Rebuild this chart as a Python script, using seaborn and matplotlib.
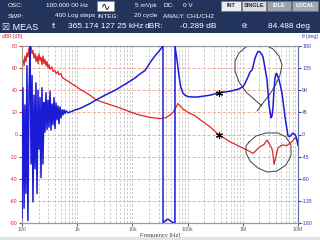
import matplotlib
matplotlib.use("Agg")
import matplotlib.pyplot as plt
import seaborn as sns
import pandas as pd
from matplotlib.patches import Rectangle
from matplotlib.ticker import FixedLocator, NullFormatter

# ---------------- data ----------------
mag_freq = [100, 104, 109, 113, 118, 123, 128, 134, 140, 146, 152, 158, 165, 172, 179,
            187, 195, 203, 212, 221, 230, 240, 250, 261, 272, 284, 296, 308, 322, 350,
            364, 396, 413, 449, 468, 509, 530, 553, 741, 1124, 1706, 2101, 2588, 3928,
            5963, 9046, 13728, 20837, 31623, 38958, 47994, 54382, 59109, 67008, 72846,
            82567, 101672, 136167, 167707, 254568, 365174, 586300, 889900, 1242400,
            1467800, 1530400, 1663400, 1885500, 2049800, 2422000, 2744700, 2983600,
            3381000, 3524800, 3674700, 3993800, 4341700, 5131500, 6319000, 7784000,
            8824000, 10000000]
mag_db = [63, 68, 62, 71, 66, 74, 70, 78, 72, 80, 73, 76, 69, 73, 66,
          71, 64, 73, 67, 70, 63, 71, 64, 68, 62, 66, 60, 63, 59, 61,
          57, 58, 55, 57, 54, 55, 52, 51, 47, 41, 35.5, 32, 30, 27,
          24, 20.5, 17.5, 15.5, 14.3, 15, 17.5, 20, 23, 28, 26,
          23, 20, 17, 13.5, 7, -0.289, -6.5, -11, -14.5,
          -16.5, -17, -15.5, -12.5, -11, -9, -5, -8,
          -13, -18, -27, -20, -12, -9.5, -10, -6.5,
          -3, -5]

phase_freq = [100, 104, 109, 113, 118, 123, 128, 134, 140, 146, 152, 158, 165, 172, 179,
              187, 195, 203, 212, 221, 230, 240, 250, 261, 272, 284, 296, 308, 322, 335,
              350, 364, 380, 396, 413, 431, 449, 468, 488, 509, 530, 553, 577, 601, 627,
              681, 741, 805, 912, 1124, 1706, 2101, 3188, 4840, 7345, 11144, 13728, 14925,
              16914, 18386, 20837, 25672, 29094, 31623, 35800, 35900, 39000, 44145, 48000,
              54382, 58900, 59109, 64269, 67008, 72846, 75945, 82567, 89753, 101672,
              136167, 167707, 254568, 365174, 586300, 818400, 1008300, 1096300, 1242400,
              1350400, 1467800, 1530400, 1663400, 1808300, 1885500, 2049800, 2228400,
              2323200, 2525000, 2744700, 2983600, 3242900, 3381000, 3524800, 3674700,
              3831000, 3993800, 4164600, 4341700, 4526300, 5131500, 5814000, 6319000,
              6590000, 7163000, 7784000, 8117000, 8824000, 9199000, 10000000]
phase_deg = [-170, 95, -150, 60, -120, 140, -175, 90, 180, -60, 120, -137, 80, -70, 105,
             -120, 90, -30, 75, -88, 95, -60, 65, 5, 85, 10, 70, 15, 88, 9,
             62, 20, 75, 12, 64, 30, 58, 22, 56, 34, 50, 40, 50, 43, 48,
             44, 46, 47, 50, 53, 63, 69, 80, 90, 102, 115, 123, 126,
             130, 136, 146, 160, 167, 172, 180, -179.5, -176, -172, -175,
             -179, -179.8, 179.8, 152, 135, 105, 95, 84, 80, 77,
             76, 77, 80, 84.488, 88, 92, 97, 104, 117,
             127, 131, 138, 155, 165, 169, 168, 162,
             158, 135, 111, 60, 34, 38, 55, 91,
             115, 124, 123, 117, 112, 84, 36, 10,
             -3, -4, 1, 3, 0, -4, -22]

loop_a_freq = [2228400, 1663400, 1142900, 853500, 722400, 722400, 853500, 1142900, 1663400,
               2525000, 3524800, 4526300, 5131500, 4719700, 3993800, 3110700, 2323200, 1808300]
loop_a_db = [25.8, 31.2, 38.4, 47.5, 57.4, 66.4, 73.7, 79.1, 81.8,
             80.9, 77.3, 71.0, 62.8, 53.8, 45.6, 36.6, 28.5, 21.2]
loop_b_freq = [1295300, 1734300, 2632700, 4341700, 6060000, 7466800, 7466800, 6060000,
               4164600, 2744700, 1885500, 1350400, 1142900, 1142900, 1295300]
loop_b_db = [-6.8, -1.4, 1.4, 1.4, -2.3, -9.5, -19.4, -27.6,
             -33.0, -33.9, -30.3, -24.0, -16.7, -10.4, -6.8]

marker_freq = 365174.12725
marker_db = -0.289
marker_deg = 84.488

x_ticks = [1e2, 1e3, 1e4, 1e5, 1e6, 1e7]
x_tick_labels = ["100", "1k", "10k", "100k", "1M", "10M"]
db_ticks = [-80, -60, -40, -20, 0, 20, 40, 60, 80]
deg_ticks = [-180, -135, -90, -45, 0, 45, 90, 135, 180]

# ---------------- style ----------------
sns.set_style("white")
plt.rcParams["font.family"] = ["Liberation Sans", "DejaVu Sans"]

W, H = 320, 240
fig = plt.figure(figsize=(3.2, 2.4), dpi=100)
fig.patch.set_facecolor("white")


def fx(px):
    return px / W


def fy(py):
    return 1 - py / H


RED = "#e02626"
BLUE = "#1c1cd6"

ax = fig.add_axes([fx(22), fy(223), (298 - 22) / W, (223 - 46) / H])
ax.set_xscale("log")
ax2 = ax.twinx()

mag_df = pd.DataFrame({"freq": mag_freq, "db": mag_db})
ph_df = pd.DataFrame({"freq": phase_freq, "deg": phase_deg})

sns.lineplot(data=mag_df, x="freq", y="db", ax=ax, color=RED, lw=0.9,
             sort=False, estimator=None, zorder=3)
sns.lineplot(data=ph_df, x="freq", y="deg", ax=ax2, color=BLUE, lw=1.1,
             sort=False, estimator=None, zorder=3)
sns.lineplot(x=loop_a_freq, y=loop_a_db, ax=ax, color="#404040", lw=0.7,
             sort=False, estimator=None, zorder=4)
sns.lineplot(x=loop_b_freq, y=loop_b_db, ax=ax, color="#404040", lw=0.7,
             sort=False, estimator=None, zorder=4)
ax.plot([marker_freq], [marker_db], marker=(6, 2, 0), ms=5, mew=0.8, color="black", zorder=5)
ax2.plot([marker_freq], [marker_deg], marker=(6, 2, 0), ms=5, mew=0.8, color="black", zorder=5)

ax.set_xlim(1e2, 1e7)
ax.set_ylim(-80, 80)
ax2.set_ylim(-180, 180)

ax.xaxis.set_major_locator(FixedLocator(x_ticks))
minor = [m * 10 ** e for e in range(2, 7) for m in range(2, 10)]
ax.xaxis.set_minor_locator(FixedLocator(minor))
ax.xaxis.set_minor_formatter(NullFormatter())
ax.set_xticklabels(x_tick_labels)
ax.set_yticks(db_ticks)
ax.set_yticklabels([str(v) for v in db_ticks])
ax2.set_yticks(deg_ticks)
ax2.set_yticklabels([str(v) for v in deg_ticks])

ax.grid(which="both", axis="x", color="#c4c4c4", ls=(0, (3, 2)), lw=0.6)
ax.grid(which="major", axis="y", color="#eaa494", ls=(0, (4, 2)), lw=0.6)
ax2.grid(False)

ax.tick_params(axis="x", which="major", labelsize=3.8, colors="#606060", length=2, pad=1,
               direction="out", bottom=True)
ax.tick_params(axis="x", which="minor", length=0)
ax.tick_params(axis="y", labelsize=3.8, colors=RED, length=2, pad=1, direction="out", left=True)
ax2.tick_params(axis="y", labelsize=3.8, colors="#3040b0", length=2, pad=1, direction="out", right=True)

for a in (ax, ax2):
    for s in a.spines.values():
        s.set_color("#9a9a9a")
        s.set_linewidth(0.8)
ax2.spines["right"].set_color("#6070a8")

ax.set_xlabel("Frequency [Hz]", fontsize=4.2, color="#404040", labelpad=0.5)
ax.set_ylabel("")
ax2.set_ylabel("")

fig.text(fx(2), fy(36.5), "dBR [dB]", color=RED, fontsize=3.6, ha="left", va="center")
fig.text(fx(318), fy(36.5), "\u03b8 [deg]", color="#3040b0", fontsize=3.6, ha="right", va="center")

# ---------------- header ----------------
HDR = "#22335c"
fig.patches.append(Rectangle((0, fy(33)), 1, 33 / H, transform=fig.transFigure,
                             facecolor=HDR, edgecolor="none", zorder=0))
fig.patches.append(Rectangle((0, 0), 1, 3 / H, transform=fig.transFigure,
                             facecolor="#e2e2e2", edgecolor="none", zorder=0))


def htxt(x, y, s, size=4.6, ha="left", color="white", weight="normal"):
    fig.text(fx(x), fy(y), s, color=color, fontsize=size, ha=ha, va="center", fontweight=weight)


# row 1
htxt(8, 5.5, "OSC:")
htxt(88, 5.5, "100.000 00 Hz", ha="right")
fig.patches.append(Rectangle((fx(97), fy(11)), 17 / W, 10 / H, transform=fig.transFigure,
                             facecolor="white", edgecolor="#888888", lw=0.4))
htxt(105.5, 5.8, "\u223f", size=8, ha="center", color="black")
htxt(157, 5.5, "5 mVpk", ha="right")
htxt(163, 5.5, "DC:")
htxt(193, 5.5, "0 V", ha="right")
buttons = [("INT", 221, 241, "#ececec", "#202840"),
           ("SINGLE", 242, 266, "#dcdcdc", "#202840"),
           ("IDLE", 267, 291, "#9da3ad", "white"),
           ("LOCAL", 292, 318, "#a3a8b2", "white")]
for label, x0, x1, fc, tc in buttons:
    fig.patches.append(Rectangle((fx(x0), fy(10.5)), (x1 - x0) / W, 9.5 / H,
                                 transform=fig.transFigure, facecolor=fc,
                                 edgecolor="#707888", lw=0.4))
    htxt((x0 + x1) / 2, 5.8, label, size=4.0, ha="center", color=tc, weight="bold")

# row 2
htxt(8, 16, "SWP:")
htxt(95, 16, "400 Log steps", ha="right")
htxt(97, 16, "INTEG:")
htxt(157, 16, "20 cycle", ha="right")
htxt(163, 16, "ANALY: CH1/CH2")

# row 3
htxt(2, 27, "\u2612 MEAS", size=6.5)
htxt(52, 27, "f:", size=6)
htxt(143, 27, "365.174 127 25 kHz", size=6, ha="right")
htxt(145, 27, "dBR:", size=6)
htxt(217, 27, "-0.289 dB", size=6, ha="right")
htxt(242, 27, "\u03b8:", size=6)
htxt(310, 27, "84.488 deg", size=6, ha="right")

fig.savefig("out.png", dpi=100)
